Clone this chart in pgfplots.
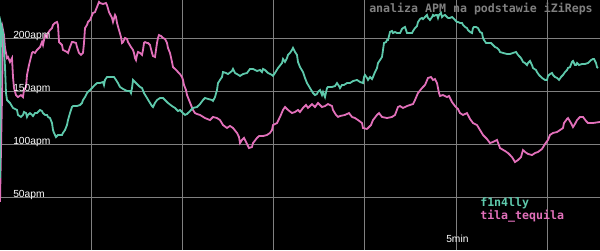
\documentclass[border=0pt]{standalone}
\usepackage{fontspec}
\setmainfont{Liberation Sans}
\newfontfamily\mono{DejaVu Sans Mono}
\usepackage{pgfplots}
\pgfplotsset{compat=1.18}
\definecolor{tealc}{RGB}{94,201,172}
\definecolor{pinkc}{RGB}{226,112,186}
\definecolor{gridc}{RGB}{128,128,128}
\begin{document}
\begin{tikzpicture}
\begin{axis}[
 name=ax,
 scale only axis, width=450pt, height=187.5pt,
 xmin=0, xmax=600, ymin=0, ymax=235.85,
 axis background/.style={fill=black},
 axis line style={draw=none},
 xtick=\empty, ytick=\empty,
]
\draw[gridc, line width=0.75pt] (axis cs:91.2,0) -- (axis cs:91.2,235.85);
\draw[gridc, line width=0.75pt] (axis cs:182.4,0) -- (axis cs:182.4,235.85);
\draw[gridc, line width=0.75pt] (axis cs:273.6,0) -- (axis cs:273.6,235.85);
\draw[gridc, line width=0.75pt] (axis cs:364.8,0) -- (axis cs:364.8,235.85);
\draw[gridc, line width=0.75pt] (axis cs:456,0) -- (axis cs:456,235.85);
\draw[gridc, line width=0.75pt] (axis cs:547.2,0) -- (axis cs:547.2,235.85);
\draw[gridc, line width=0.75pt] (axis cs:0,50) -- (axis cs:600,50);
\draw[gridc, line width=0.75pt] (axis cs:0,100) -- (axis cs:600,100);
\draw[gridc, line width=0.75pt] (axis cs:0,150) -- (axis cs:600,150);
\draw[gridc, line width=0.75pt] (axis cs:0,200) -- (axis cs:600,200);
\addplot[pinkc, line width=1.35pt] coordinates {
(0,45.3)(2,143.4)(3,207.5)(4,202.8)(5,190.6)(7,181.1)(8,182.1)(10,177.4)(12,181.1)(13,163.2)(14,152.8)(16,146.2)(18,144.3)(21,146.2)(23,144.3)(24,150.9)(26,153.8)(27,165.1)(29,174.5)(32,185.9)(33,186.8)(35,185.9)(37,188.7)(40,191.5)(42,196.2)(43,193.4)(45,202.8)(47,200.9)(48,204.7)(50,207.5)(52,209.4)(53,212.3)(55,214.2)(57,215.1)(58,212.3)(59,196.2)(62,193.4)(63,188.7)(67,186.8)(68,185.9)(70,191.5)(72,196.2)(73,196.2)(76,195.3)(77,191.5)(79,185.9)(81,184.0)(83,185.9)(84,195.3)(85,209.4)(87,212.3)(88,215.1)(90,217.0)(93,223.6)(95,224.5)(97,229.2)(99,234.0)
(100,233.0)(103,232.1)(106,233.0)(107,231.1)(109,224.5)(112,218.9)(113,215.1)(115,221.7)(116,219.8)(117,214.2)(119,207.5)(121,200.9)(122,195.3)(123,196.2)(125,200.0)(127,199.1)(128,196.2)(131,191.5)(133,188.7)(134,185.9)(135,181.1)(136,179.2)(137,184.0)(138,186.8)(140,185.9)(142,184.0)(143,188.7)(144,195.3)(145,196.2)(147,195.3)(148,195.3)(150,193.4)(152,185.9)(153,183.0)(155,182.1)(156,188.7)(157,195.3)(158,200.0)(159,202.8)(161,201.9)(163,200.0)(165,199.1)(167,195.3)(168,190.6)(170,185.9)(172,177.4)(173,172.6)(175,170.8)(177,168.9)(178,167.9)(180,166.0)(182,163.2)(183,160.4)(184,155.7)(186,150.9)(187,146.2)(189,141.5)(191,136.8)(193,132.1)(195,129.2)(197,128.3)
(200,127.4)(205,124.5)(210,122.6)(213,125.5)(217,124.5)(220,122.6)(223,117.9)(227,115.1)(230,117.0)(233,115.1)(237,110.4)(239,106.6)(240,100.9)(242,103.8)(244,105.7)(247,100.0)(249,96.2)(252,97.2)(253,100.9)(257,105.7)(259,107.5)(263,107.5)(267,108.5)(270,110.4)(272,113.2)(273,117.9)(277,119.8)(280,125.5)(283,132.1)(285,134.9)(288,132.1)(292,129.2)(295,130.2)(298,132.1)
(300,130.2)(303,134.0)(306,136.8)(308,134.0)(312,137.7)(315,134.9)(318,138.7)(322,134.9)(325,135.8)(328,137.7)(332,135.8)(333,132.1)(336,127.4)(338,125.5)(340,126.4)(345,127.4)(349,129.2)(352,125.5)(355,124.5)(358,122.6)(362,119.8)(363,115.1)(367,114.2)(368,115.1)(371,117.9)(373,122.6)(377,127.4)(379,129.2)(382,125.5)(387,124.5)(392,125.5)(395,127.4)(398,134.9)
(400,135.8)(403,134.0)(407,135.8)(410,136.8)(413,137.7)(415,141.5)(418,148.1)(422,152.8)(425,155.7)(428,162.3)(431,163.2)(433,160.4)(435,161.3)(437,157.5)(439,148.1)(440,145.3)(443,146.2)(447,144.3)(449,145.3)(452,139.6)(455,135.8)(458,133.0)(460,129.2)(463,127.4)(467,129.2)(470,123.6)(473,119.8)(477,117.9)(480,113.2)(483,108.5)(487,104.7)(490,100.9)(493,101.9)(497,103.8)
(500,96.2)(505,93.4)(508,91.5)(512,87.7)(515,83.0)(518,84.9)(521,87.7)(523,94.3)(525,92.5)(528,90.6)(532,89.6)(535,91.5)(538,92.5)(542,95.3)(545,100.0)(548,103.8)(550,108.5)(553,110.4)(557,111.3)(560,113.2)(563,115.1)(564,119.8)(567,123.6)(568,124.5)(571,119.8)(573,116.0)(575,118.9)(577,122.6)(580,125.5)(583,125.5)(586,121.7)(588,119.8)(593,119.8)(600,120.8)
};
\addplot[tealc, line width=1.35pt] coordinates {
(0,67.9)(1,213.2)(3,204.7)(4,188.7)(5,172.6)(6,148.1)(7,141.5)(10,138.7)(13,134.0)(17,132.1)(18,127.4)(21,125.5)(23,127.4)(24,130.2)(26,129.2)(27,125.5)(28,127.4)(30,129.2)(32,127.4)(33,126.4)(35,129.2)(37,129.2)(38,130.2)(40,132.1)(42,131.1)(43,129.2)(45,127.4)(47,127.4)(48,125.5)(50,124.5)(52,119.8)(53,113.2)(54,110.4)(56,106.6)(58,108.5)(62,108.5)(63,110.4)(65,113.2)(67,117.9)(68,122.6)(70,129.2)(72,134.9)(73,135.8)(77,135.8)(80,136.8)(82,138.7)(83,141.5)(85,144.3)(87,148.1)(88,149.1)(90,150.9)(93,153.8)(95,155.7)(97,157.5)
(100,157.5)(103,158.5)(104,155.7)(105,160.4)(107,163.2)(110,163.2)(114,163.2)(116,160.4)(118,157.5)(120,153.8)(123,151.9)(127,150.0)(130,150.0)(131,148.1)(132,152.8)(133,160.4)(135,158.5)(137,156.6)(140,153.8)(142,152.8)(144,148.1)(147,143.4)(150,138.7)(152,135.8)(153,134.9)(155,138.7)(157,141.5)(160,143.4)(163,143.4)(165,141.5)(168,138.7)(172,135.8)(175,134.0)(178,131.1)(180,132.1)(183,129.2)(185,127.4)(187,128.3)(190,131.1)(193,134.0)(197,134.9)
(200,137.7)(203,141.5)(205,143.4)(208,142.5)(212,141.5)(213,140.6)(215,144.3)(217,150.9)(218,157.5)(220,160.4)(222,163.2)(223,167.9)(226,167.0)(228,166.0)(232,168.9)(233,170.8)(235,167.0)(237,166.0)(240,164.2)(243,166.0)(247,167.0)(250,170.8)(253,170.8)(257,168.9)(260,169.8)(262,167.9)(263,170.8)(265,169.8)(268,167.0)(272,165.1)(273,164.2)(275,167.0)(278,171.7)(282,176.4)(283,180.2)(285,177.4)(287,181.1)(288,184.0)(290,185.9)(292,188.7)(293,190.6)(295,186.8)(297,184.0)(298,177.4)
(300,172.6)(303,167.9)(305,162.3)(307,157.5)(310,152.8)(313,148.1)(315,146.2)(317,147.2)(318,149.1)(320,150.9)(322,146.2)(323,149.1)(325,144.3)(327,152.8)(328,153.8)(332,153.8)(335,154.7)(337,157.5)(339,154.7)(340,152.8)(342,155.7)(344,155.7)(347,157.5)(350,157.5)(353,159.4)(357,160.4)(360,158.5)(363,157.5)(364,163.2)(365,165.1)(367,162.3)(368,160.4)(370,163.2)(372,161.3)(373,163.2)(375,167.9)(377,171.7)(378,176.4)(380,179.2)(382,182.1)(383,188.7)(384,195.3)(386,196.2)(387,198.1)(388,198.1)(390,205.7)(392,206.6)(393,204.7)(395,205.7)(397,204.7)
(400,204.7)(402,208.5)(403,209.4)(405,210.4)(407,204.7)(408,204.7)(412,204.7)(413,206.6)(415,209.4)(417,211.3)(418,215.1)(420,217.9)(422,218.9)(423,217.9)(425,219.8)(427,221.7)(428,218.9)(430,217.0)(432,219.8)(433,221.7)(434,220.8)(436,221.7)(437,221.7)(438,218.9)(439,221.7)(441,223.6)(442,219.8)(443,220.8)(445,221.7)(447,219.8)(448,218.9)(450,218.9)(452,219.8)(453,218.9)(455,217.0)(457,215.1)(458,215.1)(460,214.2)(462,214.2)(463,212.3)(465,210.4)(467,209.4)(468,207.5)(470,205.7)(472,204.7)(473,209.4)(474,210.4)(476,210.4)(478,209.4)(480,205.7)(482,204.7)(483,200.0)(484,198.1)(486,195.3)(488,195.3)(491,195.3)(493,193.4)(495,191.5)(497,190.6)(499,188.7)
(500,186.8)(503,185.9)(507,184.9)(510,184.9)(513,185.9)(516,186.8)(518,184.0)(521,181.1)(523,177.4)(525,176.4)(527,174.5)(528,176.4)(530,178.3)(532,174.5)(533,171.7)(536,169.8)(537,167.9)(539,165.1)(542,162.3)(545,160.4)(547,160.4)(548,164.2)(550,166.0)(552,167.0)(553,165.1)(555,163.2)(557,162.3)(559,160.4)(561,163.2)(563,165.1)(565,167.9)(567,169.8)(568,171.7)(570,172.6)(572,177.4)(573,178.3)(574,176.4)(575,174.5)(576,174.5)(577,176.4)(579,174.5)(582,175.5)(585,175.5)(588,176.4)(591,179.2)(593,180.2)(594,180.2)(596,176.4)(597,172.6)(598,171.7)
};
\node[inner sep=0pt, anchor=base west, text=white, font=\fontsize{7.7}{9}\selectfont] at (axis cs:13,200) {200apm};
\node[inner sep=0pt, anchor=base west, text=white, font=\fontsize{7.7}{9}\selectfont] at (axis cs:13,150) {150apm};
\node[inner sep=0pt, anchor=base west, text=white, font=\fontsize{7.7}{9}\selectfont] at (axis cs:13,100) {100apm};
\node[inner sep=0pt, anchor=base west, text=white, font=\fontsize{7.7}{9}\selectfont] at (axis cs:13,50) {50apm};
\node[inner sep=0pt, anchor=base west, text=white, font=\fontsize{7.7}{9}\selectfont] at (axis cs:446,7.5) {5min};
\node[inner sep=0pt, anchor=base east, text=gridc, font=\fontsize{8.7}{10}\selectfont\mono\bfseries] at (axis cs:593,223.6) {analiza APM na podstawie iZiReps};
\node[inner sep=0pt, anchor=base west, text=tealc, font=\fontsize{8.7}{10}\selectfont\mono\bfseries] at (axis cs:480,40.6) {f1n4lly};
\node[inner sep=0pt, anchor=base west, text=pinkc, font=\fontsize{8.7}{10}\selectfont\mono\bfseries] at (axis cs:480,29.2) {tila\_tequila};
\end{axis}
\pgfresetboundingbox
\useasboundingbox (ax.south west) rectangle (ax.north east);
\end{tikzpicture}
\end{document}
